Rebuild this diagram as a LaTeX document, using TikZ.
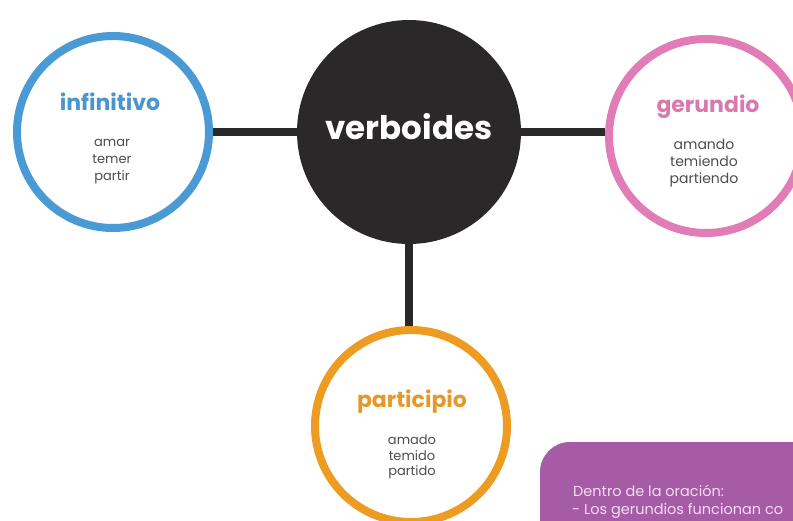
\documentclass[tikz,border=0pt]{standalone}
\usepackage{fontspec}
\setmainfont{Poppins}
\definecolor{cblue}{HTML}{4A9AD6}
\definecolor{tblue}{HTML}{4A95CE}
\definecolor{cpink}{HTML}{E27CB6}
\definecolor{tpink}{HTML}{D879B0}
\definecolor{corange}{HTML}{EE9B22}
\definecolor{torange}{HTML}{E5992C}
\definecolor{cdark}{HTML}{2A2829}
\definecolor{cpurple}{HTML}{A55BA6}
\definecolor{tpurple}{HTML}{F6DDF2}
\definecolor{tgray}{HTML}{4D4D4D}
\tikzset{
  ring/.style={circle, draw, line width=8pt, fill=white, inner sep=0pt},
  link/.style={draw=cdark, line width=8pt},
  title/.style={font=\fontsize{22}{22}\selectfont\bfseries, anchor=base, inner sep=0pt},
  words/.style={font=\fontsize{13}{17}\selectfont, text=tgray, align=center, inner sep=0pt},
  note/.style={font=\fontsize{14.5}{20}\selectfont, text=tpurple, align=left, anchor=base west, inner sep=0pt}
}
\begin{document}
\begin{tikzpicture}[x=1pt,y=-1pt]
\useasboundingbox (0,0) rectangle (793,520);
\clip (0,0) rectangle (793,520);
\fill[white] (0,0) rectangle (793,520);
% purple box
\fill[cpurple, rounded corners=30pt] (540,442) rectangle (840,580);
\node[note] (n1) at (573,496) {Dentro de la oración:};
\node[note] (n2) at (572,514) {- Los gerundios funcionan co};
% nodes
\node[circle, fill=cdark, minimum size=224pt, inner sep=0pt] (verb) at (409,132) {};
\node[ring, draw=cblue, minimum size=192pt] (inf) at (113,132) {};
\node[ring, draw=cpink, minimum size=194pt] (ger) at (706,136) {};
\node[ring, draw=corange, minimum size=192pt] (part) at (411,426) {};
% connectors
\draw[link] (inf.east |- 0,132) -- (verb.west);
\draw[link] (verb.east) -- (ger.west |- 0,132);
\draw[link] (verb.south) -- (verb.south |- part.north);
% texts
\node[title, text=white, font=\fontsize{32.5}{33}\selectfont\bfseries] (tverb) at (409,139) {verboides};
\node[title, text=tblue] (tinf) at (110,110) {infinitivo};
\node[title, text=tpink] (tger) at (708,112) {gerundio};
\node[title, text=torange] (tpart) at (412,407) {participio};
\node[words] (winf) at (112,162) {amar\\temer\\partir};
\node[words, font=\fontsize{14}{17}\selectfont] (wger) at (704,163) {amando\\temiendo\\partiendo};
\node[words, font=\fontsize{13}{15.5}\selectfont] (wpart) at (412,457) {amado\\temido\\partido};
\end{tikzpicture}
\end{document}
